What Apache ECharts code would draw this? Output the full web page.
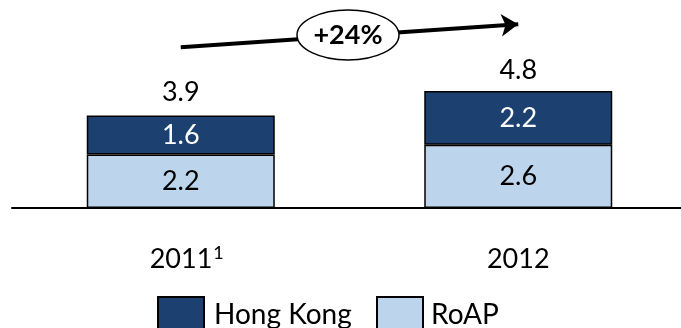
<!DOCTYPE html>
<html>
<head>
<meta charset="utf-8">
<script src="https://cdn.jsdelivr.net/npm/echarts@6/dist/echarts.min.js"></script>
<style>html,body{margin:0;padding:0;background:#fff}#c{width:681px;height:328px}</style>
</head>
<body>
<div id="c"></div>
<script>
const categories = ['2011', '2012'];
const categorySup = ['1', ''];
const roap = [2.2, 2.6];
const hongKong = [1.6, 2.2];
const totals = [3.9, 4.8];
const growthLabel = '+24%';
const arrowFrom = 6.6;
const arrowTo = 7.55;

const FONT = 'Lato';
const FS = 27;
const chart = echarts.init(document.getElementById('c'), null, {renderer: 'canvas'});
const border = {borderColor: '#000', borderWidth: 1.5};

chart.setOption({
  animation: false,
  textStyle: {fontFamily: FONT},
  grid: {left: 12, width: 675, top: 1, bottom: 120, containLabel: false, outerBoundsMode: 'none'},
  xAxis: {
    type: 'category',
    data: categories,
    axisLine: {show: true, lineStyle: {color: '#000', width: 2}},
    axisTick: {show: false},
    axisLabel: {
      margin: 36,
      formatter: function (v, i) {
        return categorySup[i] ? '{p|}{a|' + v + '}{s|' + categorySup[i] + '}' : '{a|' + v + '}';
      },
      rich: {
        a: {fontFamily: FONT, fontSize: FS, color: '#000', lineHeight: 30},
        p: {width: 12},
        s: {fontFamily: FONT, fontSize: 18, color: '#000', verticalAlign: 'top', lineHeight: 30, padding: [0, 0, 12, 1]}
      }
    }
  },
  yAxis: {type: 'value', min: 0, max: 8.5, show: false, splitLine: {show: false}},
  legend: [
    {data: ['Hong Kong'], left: 157, top: 296, padding: 0, itemWidth: 46, itemHeight: 36, icon: 'rect', itemGap: 0,
     textStyle: {fontFamily: FONT, fontSize: 28, color: '#000', padding: [0, 0, 6, 5]}},
    {data: ['RoAP'], left: 376, top: 296, padding: 0, itemWidth: 46, itemHeight: 36, icon: 'rect', itemGap: 0,
     textStyle: {fontFamily: FONT, fontSize: 28, color: '#000', padding: [0, 0, 6, 3]}}
  ],
  series: [
    {name: 'RoAP', type: 'bar', stack: 's', barWidth: 188, data: roap,
     itemStyle: Object.assign({color: '#bcd5ec'}, border),
     label: {show: true, position: 'inside', fontFamily: FONT, fontSize: FS, color: '#000'}},
    {name: 'Hong Kong', type: 'bar', stack: 's', barWidth: 188, data: hongKong,
     itemStyle: Object.assign({color: '#1c4170'}, border),
     label: {show: true, position: 'inside', fontFamily: FONT, fontSize: FS, color: '#fff'}},
    {name: 'Total', type: 'bar', barWidth: 188, barGap: '-100%', data: totals, silent: true,
     itemStyle: {color: 'rgba(0,0,0,0)', borderWidth: 0},
     label: {show: true, position: 'top', distance: 7, fontFamily: FONT, fontSize: FS, color: '#000'},
     markLine: {
       silent: true, animation: false,
       symbol: ['none', 'arrow'], symbolSize: 17,
       lineStyle: {color: '#000', width: 4, type: 'solid'},
       label: {show: false},
       emphasis: {disabled: true},
       data: [[{coord: [0, arrowFrom]}, {coord: [1, arrowTo]}]]
     }}
  ],
  graphic: [
    {type: 'ellipse', z: 100, shape: {cx: 348, cy: 35, rx: 51, ry: 25},
     style: {fill: '#fff', stroke: '#000', lineWidth: 1.5}},
    {type: 'text', z: 101, x: 348, y: 35,
     style: {text: growthLabel, fontFamily: FONT, fontSize: 27, fontWeight: 'bold', fill: '#000', align: 'center', verticalAlign: 'middle'}}
  ]
});
</script>
</body>
</html>
